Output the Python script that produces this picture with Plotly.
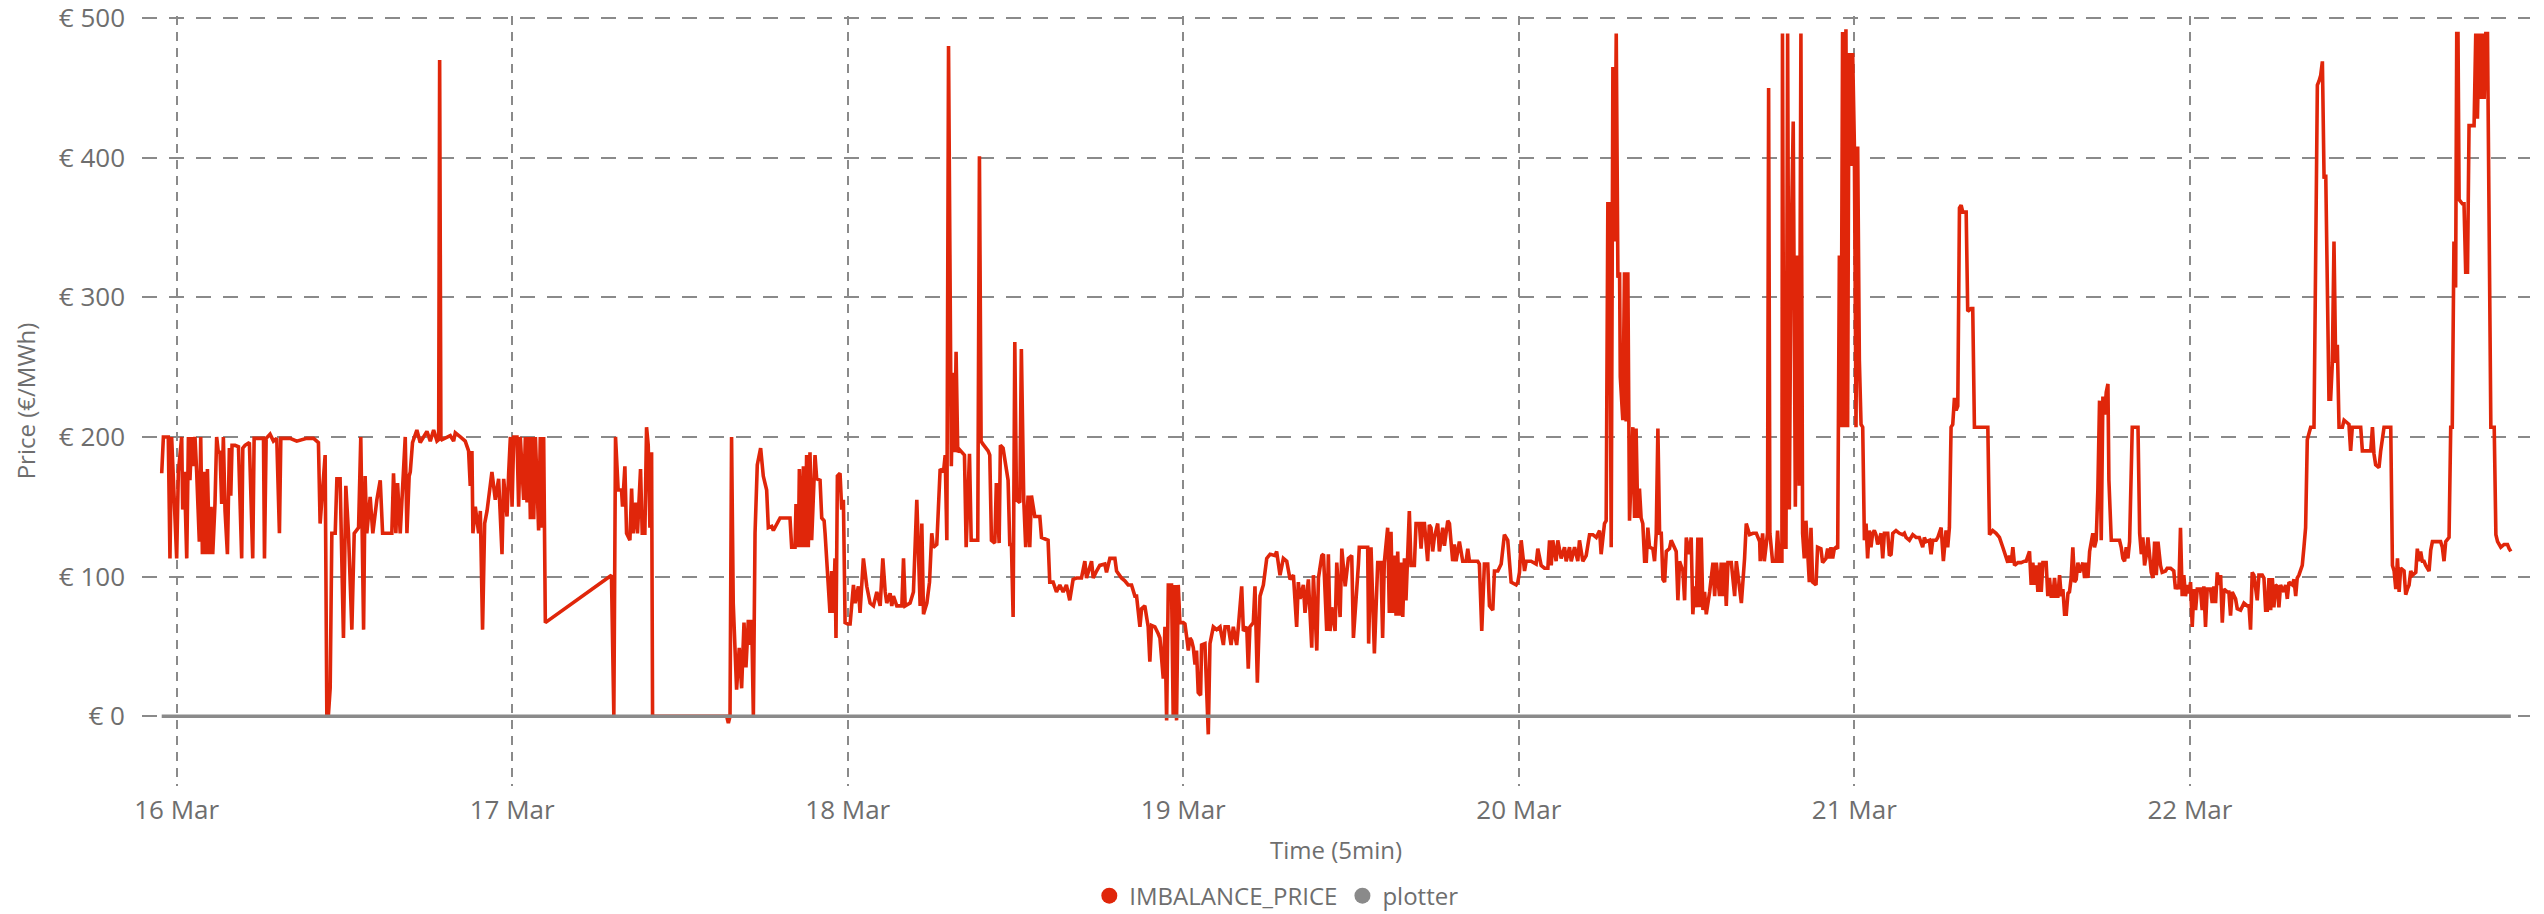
import pandas as pd
import plotly.graph_objects as go

# ---------------- data (hours after 16 Mar 00:00, price in EUR/MWh) ----------------
BASE_DAY = "2024-03-16"

h_a = [-1.07,-0.95,-0.60,-0.48,-0.36,-0.24,-0.12,0.00,0.12,0.36,0.43,0.55,0.72,0.84,0.95,1.07,1.19,1.31,1.43,1.62,
       1.72,1.84,1.96,2.08,2.20,2.34,2.46,2.58,2.74,2.86,2.98,3.10,3.22,3.34,3.46,3.63,3.77,3.87,3.96,4.18,
       4.42,4.65,4.73,4.89,5.20,5.44,5.54,6.21,6.28,6.40,6.68,6.92,7.16,7.35,7.45,8.11,8.59,9.31,9.79,10.14]
p_a = [174,200,200,113,200,175,148,113,175,200,148,175,113,200,169,200,179,200,175,125,
       200,116,175,116,177,116,150,116,152,200,189,189,152,200,147,116,192,158,194,194,
       193,113,192,194,196,113,199,199,113,199,202,197,199,131,199,199,197,199,199,196]

h_b = [10.26,10.62,10.74,10.86,10.98,11.10,11.34,11.46,11.69,11.93,12.10,12.29,12.53,12.70,13.01,13.17,13.37,13.48,13.60,13.84,
       14.03,14.32,14.56,14.73,15.39,15.51,15.68,15.80,15.99,16.11,16.35,16.47,16.63,16.71,16.87,17.18,17.42,17.66,17.90,18.14,
       18.38,18.62,18.74,18.81,18.90,18.97,19.57,19.81,19.93,20.29,20.64,20.88,21.00,21.12,21.19,21.36,21.60,21.72,21.88,22.03,
       22.20,22.55,22.79,23.03,23.27,23.39,23.63,23.75,23.87,23.99,24.11,24.34,24.46,24.58,24.82,24.94,25.06,25.18,25.30,25.42,
       25.54,25.66,25.89,26.01,26.13,26.25,26.37]
p_b = [138,187,2,2,20,131,131,170,170,56,165,131,62,131,135,200,62,172,131,157,
       131,155,169,131,131,174,131,167,131,155,200,131,172,175,196,205,196,200,204,197,
       205,197,198,470,199,198,201,197,203,200,197,190,165,190,131,150,131,147,62,138,
       147,175,155,170,116,170,143,175,200,150,200,200,150,200,155,200,153,200,141,200,
       141,200,133,200,135,200,67]

h_c = [31.10,31.27,31.39,31.58,31.82,31.89,32.06,32.18,32.42,32.54,32.65,32.84,32.96,33.18,33.30,33.49,33.61,33.73,33.85,33.97,
       34.04,36.50,39.34,39.46,39.58,39.69,39.81,40.05,40.24,40.41,40.58,40.72,40.89,41.01,41.13,41.25,41.37,41.53,41.77,41.96,
       42.20,42.32,42.56,42.68,42.92,43.16,43.87,43.99,44.23,44.30,44.47,44.54,44.71,44.83,44.95,45.06,45.18,45.30,45.42,45.66,
       45.78,46.02,46.14,46.31,46.38,46.57,46.73,46.85,46.97,47.09,47.16,47.26,47.45,47.57,47.69,47.81]
p_c = [101,0,200,162,162,150,179,131,126,163,131,153,131,177,131,131,207,194,135,189,
       0,0,0,-5,0,200,81,19,49,20,67,35,69,51,69,0,131,180,192,172,
       162,135,136,133,138,142,142,121,121,152,121,177,121,179,121,187,121,189,126,187,
       170,169,142,140,131,94,74,104,74,113,56,172,174,148,155,67]

h_d = [48.00,48.17,48.41,48.53,48.76,48.88,49.12,49.36,49.60,49.84,50.08,50.32,50.51,50.68,50.79,51.03,51.15,51.27,51.51,51.87,
       51.99,52.11,52.46,52.70,52.94,53.18,53.30,53.42,53.66,53.85,54.01,54.13,54.37,54.61,54.85,54.97,55.09,55.21,55.33,55.41,
       55.53,55.65,55.75,55.87,55.99]
p_d = [66,66,94,81,93,74,113,93,81,79,89,79,113,89,81,88,79,86,79,79,
       113,79,81,89,155,79,138,73,81,96,131,121,123,177,175,187,126,480,246,179,
       246,189,261,189,191]

h_e = [56.35,56.47,56.71,56.83,57.30,57.42,57.54,57.66,58.04,58.16,58.28,58.52,58.63,58.83,58.92,59.11,59.47,59.59,59.71,59.83,
       59.95,60.07,60.31,60.42,60.59,60.73,60.90,61.02,61.14,61.38,61.74,61.86,62.33,62.45,62.69,62.93,63.17,63.41,63.64,63.88,
       64.12,64.36,64.72,64.96,65.08,65.44,65.56,65.80,66.03,66.39,66.51,66.75,67.11,67.23,67.58,67.82,68.06,68.30,68.54,68.66,
       68.90,69.02,69.25,69.49,69.61,69.73,69.97,70.21,70.33,70.57,70.69,70.81,70.93,71.16,71.28,71.40,71.52,71.64,71.76]
p_e = [187,121,188,126,126,401,197,195,190,187,126,124,167,124,194,192,169,123,123,71,
       268,155,153,263,155,121,158,121,158,143,143,128,126,96,96,89,94,89,94,83,
       98,99,99,111,99,111,99,104,108,109,103,113,113,104,99,97,94,94,86,86,
       64,77,79,64,39,65,64,59,56,27,64,-3,94,94,0,94,-3,94,67]

h_f = [72.00,72.12,72.24,72.36,72.48,72.60,72.72,72.84,72.95,73.07,73.24,73.31,73.55,73.79,73.91,74.15,74.39,74.63,74.87,74.99,
       75.22,75.42,75.58,75.82,75.94,76.18,76.30,76.54,76.65,76.77,77.01,77.13,77.30,77.49,77.73,77.97,78.21,78.56,78.68,78.92,
       79.16,79.40,79.64,79.88,80.11,80.23,80.35,80.59,80.71,80.95,81.19,81.31,81.55,81.67,81.91,82.03,82.26,82.38,82.50,82.62,
       82.86,82.98,83.22,83.34,83.58,83.81,84.05,84.17,84.53]
p_f = [67,66,57,47,56,54,49,37,47,17,15,51,52,-13,52,64,62,64,51,64,
       64,51,64,51,64,93,61,64,34,64,67,93,24,86,94,113,116,115,118,101,
       113,111,98,101,64,96,84,94,74,98,49,101,47,99,115,116,61,116,61,78,
       61,110,71,120,93,113,115,56,109]

h_g = [84.59,84.95,85.19,85.26,85.43,85.67,85.91,86.14,86.26,86.38,86.62,86.74,86.86,86.98,87.10,87.22,87.34,87.46,87.58,87.70,
       87.82,87.93,88.05,88.17,88.29,88.53,88.65,88.89,89.01,89.13,89.25,89.48,89.60,89.72,89.84,89.96,90.20,90.32,90.56,90.68,
       90.92,91.04,91.27,91.39,91.51,91.75,91.99,92.23,92.35,92.47,93.06,93.18,93.35,93.54,93.78,93.90,94.14,94.26,94.50,94.74,
       94.97,95.21,95.45,95.81,95.93]
p_g = [121,121,121,52,121,45,110,110,56,110,135,74,132,74,115,72,118,72,110,71,
       113,83,111,147,108,108,138,138,120,138,138,111,137,135,118,128,138,118,135,122,
       140,138,111,123,111,125,111,111,120,111,111,109,61,109,109,79,76,104,104,109,
       130,126,96,94,96]

h_h = [96.05,96.17,96.41,96.53,96.88,97.24,97.36,97.60,97.84,98.08,98.20,98.32,98.43,98.67,98.79,99.03,99.27,99.39,99.63,99.75,
       99.99,100.22,100.34,100.58,100.82,101.06,101.30,101.54,101.78,101.89,102.13,102.25,102.37,102.49,102.61,102.73,102.85,102.97,103.09,103.21,
       103.26,103.44,103.56,103.68,103.80,103.92,104.16,104.28,104.39,104.51,104.63,104.75,104.87,105.00,105.12,105.23,105.35,105.59,105.71,105.83,
       105.95,106.07,106.19,106.31,106.43,106.55,106.78,106.90,107.14,107.26,107.38,107.50,107.74,107.86,107.98,108.21,108.33,108.45,108.57,108.69,
       108.81,108.93,109.05,109.17,109.29,109.41,109.65,109.89,110.01,110.13,110.36,110.48,110.60,110.72,110.84,110.96,111.20,111.44,111.56,111.92,
       112.15,112.27,112.51,112.75,112.99,113.23]
p_h = [103,126,104,111,111,109,120,108,106,106,126,108,126,111,126,113,121,111,121,111,
       121,111,126,111,115,130,130,128,133,116,138,140,367,367,121,465,340,489,314,318,
       243,212,318,211,318,140,207,142,206,142,163,142,138,111,111,135,121,120,111,131,
       206,131,131,98,96,118,120,126,120,118,83,111,104,83,128,116,128,73,93,78,
       128,78,128,76,89,73,89,110,86,110,86,110,86,110,79,110,110,86,111,81,
       113,138,130,131,131,125]

h_i = [113.27,113.44,113.56,113.79,113.87,113.96,114.15,114.39,114.51,114.63,114.82,114.86,114.98,115.11,115.23,115.35,115.47,115.63,115.78,115.94,
       116.06,116.18,116.30,116.42,116.54,116.66,116.78,116.90,117.02,117.26,117.37,117.61,117.73,117.97,118.09,118.21,118.33,118.45,118.57,118.69,
       118.81,118.93,119.05,119.16,119.28,119.40,119.52,119.59,119.64,119.76,119.88,120.00,120.12,120.24,120.36,120.48,120.60,120.72,120.84,120.95,
       121.07,121.19,121.31,121.43,121.55,121.67,121.91,122.03,122.15,122.39,122.51,122.63,122.75,122.98,123.22,123.46,123.58,123.70,123.94,124.18,
       124.42,124.65,124.89,125.01,125.13,125.37,125.49,125.61,125.85,125.97,126.09,126.21,126.37,126.56,126.68,126.80,126.92,127.04,127.16,127.28,
       127.40,127.52,127.64,127.76,128.00,128.11,128.35,128.47,128.59,129.19,129.55,129.67]
p_i = [111,131,111,131,450,131,111,111,133,111,111,489,121,121,489,148,330,426,150,330,
       165,489,131,113,140,113,96,135,96,94,121,120,110,113,120,113,121,113,120,121,
       120,330,207,490,207,492,207,398,475,394,475,411,207,408,255,209,207,126,138,113,
       133,121,131,133,130,123,131,113,131,131,115,116,131,133,131,130,131,128,126,130,
       128,128,121,128,125,126,116,126,126,128,131,135,111,133,121,135,207,209,228,219,
       222,364,366,361,361,290,292,292,207,207,207,130]

h_j = [129.90,130.14,130.38,130.62,130.86,130.98,131.10,131.22,131.34,131.46,131.70,131.93,132.17,132.29,132.53,132.65,132.77,132.89,133.01,133.13,
       133.25,133.37,133.49,133.72,133.84,133.96,134.08,134.20,134.32,134.44,134.56,134.68,134.80,134.92,135.04,135.16,135.28,135.39,135.51,135.63,
       135.75,135.87,135.99,136.11,136.35,136.47,136.59,136.71,136.83,137.06,137.18,137.30,137.42,137.54,137.66,137.78,137.90,138.02,138.14,138.21,
       138.38,138.50,138.97,139.09,139.21,139.33,139.45,139.57,139.69,139.88,140.05,140.29,140.41,140.53,140.64,140.76,140.88,141.00,141.24,141.36,
       141.48,141.60,141.72]
p_j = [133,131,128,121,113,110,115,110,121,108,110,110,111,111,118,94,110,94,108,89,
       110,89,110,110,86,99,86,86,99,86,86,101,86,91,73,73,88,89,99,121,
       96,98,110,103,110,99,110,99,118,131,121,126,162,226,126,229,216,232,238,169,
       126,126,126,121,113,111,121,113,125,207,207,207,131,116,128,108,115,128,103,99,
       125,101,125]

h_k = [141.90,142.02,142.26,142.38,142.62,142.85,142.97,143.09,143.21,143.33,143.45,143.57,143.69,143.81,143.93,144.05,144.17,144.29,144.41,144.53,
       144.76,144.88,145.00,145.12,145.24,145.48,145.60,145.72,145.84,145.96,146.08,146.20,146.32,146.44,146.67,146.79,146.91,147.03,147.27,147.39,
       147.63,147.87,148.11,148.23,148.34,148.46,148.58,148.82,148.94,149.18,149.30,149.42,149.54,149.66,149.78,149.90,150.01,150.13,150.25,150.37,
       150.49,150.73,150.85,150.97,151.09,151.33,151.45,151.57,151.68,151.80,152.04,152.16,152.28,152.40,152.64]
p_k = [108,103,104,106,106,104,91,94,91,135,86,101,86,94,88,96,64,91,76,91,
       91,76,93,64,91,91,81,93,81,103,94,101,67,91,89,89,72,89,84,77,
       76,81,79,79,62,103,101,83,101,101,99,76,76,99,76,99,78,94,93,78,
       94,89,94,84,96,94,98,86,99,101,108,121,135,198,207]

h_l = [152.88,153.00,153.12,153.24,153.36,153.48,153.60,153.72,153.83,153.95,154.07,154.19,154.31,154.43,154.55,154.67,154.91,155.03,155.27,155.38,
       155.50,155.62,156.22,156.34,156.94,157.06,157.17,157.29,157.53,157.65,157.89,158.37,158.49,158.61,158.73,158.85,158.97,159.08,159.32,159.44,
       159.56,159.68,159.80,159.92,160.16,160.27,160.39,160.51,160.63,160.75,160.87,160.99,161.11,161.23,161.35,161.70,161.94,162.06,162.18,162.30,
       162.42,162.54,162.66,162.77,162.89,163.01,163.09,163.18,163.26,163.49,163.61,163.73,163.86,163.97,164.33,164.45,164.57,164.69,164.81,164.93,
       165.05,165.17,165.29,165.53,165.77,165.89,166.01,166.24,166.48,166.72,166.84,166.96]
p_l = [207,347,452,455,459,469,385,388,287,227,227,253,340,253,266,207,207,212,210,209,
       190,207,207,190,190,207,188,180,178,190,207,207,108,104,91,113,89,106,104,87,
       91,94,104,101,103,120,111,118,111,111,108,106,104,119,125,125,125,121,111,125,
       127,128,207,207,340,307,489,489,370,367,367,318,318,423,423,489,428,489,442,489,
       442,489,489,207,207,130,125,121,123,123,120,118]

# "plotter" reference series: flat zero line over the whole period
plotter_hours = [-1.07, 166.96]
plotter_vals = [0, 0]

y_ticks = [0, 100, 200, 300, 400, 500]
y_tick_labels = ["€ 0", "€ 100", "€ 200", "€ 300", "€ 400", "€ 500"]
x_tick_days = ["2024-03-16", "2024-03-17", "2024-03-18", "2024-03-19",
               "2024-03-20", "2024-03-21", "2024-03-22"]

# ---------------- build ----------------
segments = [(h_a, p_a), (h_b, p_b), (h_c, p_c), (h_d, p_d), (h_e, p_e), (h_f, p_f),
            (h_g, p_g), (h_h, p_h), (h_i, p_i), (h_j, p_j), (h_k, p_k), (h_l, p_l)]
hours, prices = [], []
for idx, (hh, pp) in enumerate(segments):
    if len(hh) != len(pp):
        raise ValueError(f"segment {idx}: {len(hh)} hours vs {len(pp)} prices")
    hours += hh
    prices += pp

base = pd.Timestamp(BASE_DAY)
x_price = base + pd.to_timedelta(hours, unit="h")
x_plot = base + pd.to_timedelta(plotter_hours, unit="h")

RED = "#E0260A"
GREY = "#8A8A8A"
FONT = "Segoe UI, Open Sans, Noto Sans, sans-serif"
TXT = "#6E6E6E"

fig = go.Figure()
fig.add_trace(go.Scatter(x=x_price, y=prices, mode="lines", name="IMBALANCE_PRICE",
                         line=dict(color=RED, width=3.6), showlegend=False))
fig.add_trace(go.Scatter(x=x_plot, y=plotter_vals, mode="lines", name="plotter",
                         line=dict(color=GREY, width=3.4), showlegend=False))
# legend entries drawn as circles
fig.add_trace(go.Scatter(x=[None], y=[None], mode="markers", name="IMBALANCE_PRICE",
                         marker=dict(color=RED, size=18, symbol="circle")))
fig.add_trace(go.Scatter(x=[None], y=[None], mode="markers", name="plotter",
                         marker=dict(color=GREY, size=18, symbol="circle")))

x_lo = base + pd.to_timedelta(-2.48, unit="h")
x_hi = base + pd.to_timedelta(168.33, unit="h")

fig.update_layout(
    width=2544, height=914,
    margin=dict(l=142, r=14, t=16, b=128, autoexpand=False),
    paper_bgcolor="white", plot_bgcolor="white",
    font=dict(family=FONT, size=24, color=TXT),
    legend=dict(orientation="h", x=0.475, xanchor="center", y=-0.143, yanchor="middle",
                font=dict(size=24, color=TXT), itemwidth=30, tracegroupgap=0),
    xaxis=dict(
        range=[x_lo, x_hi], type="date", automargin=False,
        tickvals=pd.to_datetime(x_tick_days), tickformat="%-d %b",
        showgrid=True, gridcolor=GREY, gridwidth=1.6, griddash="9px,7px",
        zeroline=False, showline=False, ticks="", ticklabelstandoff=6,
        tickfont=dict(size=26, color=TXT),
        title=dict(text="Time (5min)", standoff=16, font=dict(size=24, color=TXT)),
    ),
    yaxis=dict(
        range=[-50, 501.5], tickvals=y_ticks, ticktext=y_tick_labels, automargin=False,
        ticklabeloverflow="allow",
        showgrid=True, gridcolor=GREY, gridwidth=1.6, griddash="15px,12px",
        zeroline=False, showline=False, ticks="", ticklabelstandoff=16,
        tickfont=dict(size=26, color=TXT),
        title=dict(text="Price (€/MWh)", standoff=16, font=dict(size=24, color=TXT)),
    ),
)

fig.write_html("out.html", config={"displayModeBar": False},
               post_script="document.body.style.margin='0';")
